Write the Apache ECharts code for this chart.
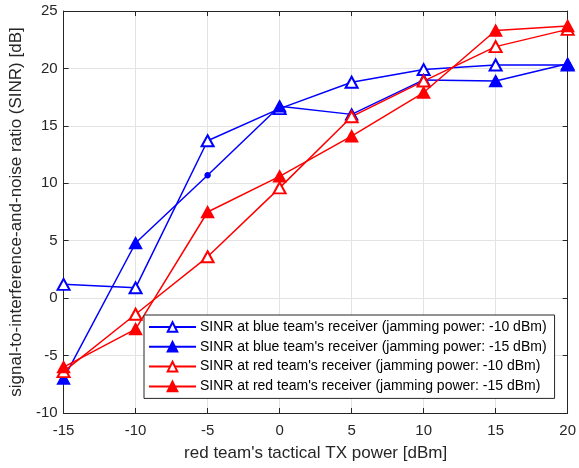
<!DOCTYPE html>
<html>
<head>
<meta charset="utf-8">
<script src="https://cdn.jsdelivr.net/npm/echarts@6/dist/echarts.min.js"></script>
<style>
  html, body { margin: 0; padding: 0; background: #fff; }
  #chart { width: 579px; height: 468px; }
</style>
</head>
<body>
<div id="chart"></div>
<script>
// 横轴: 红队发射功率
const txPower = [-15, -10, -5, 0, 5, 10, 15, 20];
// SINR 数据 [dB]
const blueJam10 = [1.2, 0.9, 13.7, 16.5, 18.8, 19.9, 20.3, 20.3];
const blueJam15 = [-7.0, 4.8, 10.7, 16.7, 16.0, 19.0, 18.9, 20.4];
const redJam10 = [-6.4, -1.4, 3.6, 9.6, 15.8, 18.9, 21.9, 23.4];
const redJam15 = [-6.0, -2.7, 7.5, 10.6, 14.1, 17.9, 23.3, 23.7];
const names = [
  "SINR at blue team's receiver (jamming power: -10 dBm)",
  "SINR at blue team's receiver (jamming power: -15 dBm)",
  "SINR at red team's receiver (jamming power: -10 dBm)",
  "SINR at red team's receiver (jamming power: -15 dBm)",
];
// 原图中蓝色实心线在 -5 dBm 处只有一个小圆点
const dotPoint = { series: 1, index: 2 };

var myChart = echarts.init(document.getElementById("chart"));
const font = "'Liberation Sans', Arial, sans-serif";
const axisColor = "#262626";

const makeSeries = (name, values, color, filled, sIdx) => {
  return {
    name,
    type: "line",
    xAxisIndex: 0,
    yAxisIndex: 0,
    symbol: filled ? "triangle" : "emptyTriangle",
    symbolSize: [12, 11],
    showAllSymbol: true,
    lineStyle: { color, width: 1.5 },
    itemStyle: { color, borderColor: color, borderWidth: 1.5 },
    emphasis: { disabled: true },
    data: values.map((v, i) => {
      if (sIdx === dotPoint.series && i === dotPoint.index) {
        return { value: [txPower[i], v], symbol: "circle", symbolSize: 5 };
      }
      return [txPower[i], v];
    }),
    z: 3,
  };
};

const option = {
  animation: false,
  textStyle: { fontFamily: font },
  grid: { left: 61, right: 9, top: 11, bottom: 55 },
  legend: {
    orient: "vertical",
    left: 144,
    top: 315,
    itemWidth: 47,
    itemHeight: 12,
    itemGap: 5.8,
    padding: [5, 8, 5, 4],
    backgroundColor: "#fff",
    borderColor: axisColor,
    borderWidth: 1,
    borderRadius: 0,
    textStyle: { fontFamily: font, fontSize: 14, color: "#000", padding: [0, 0, 0, -1] },
    data: names,
  },
  xAxis: [
    {
      type: "value",
      min: -15,
      max: 20,
      interval: 5,
      name: "red team's tactical TX power [dBm]",
      nameLocation: "middle",
      nameGap: 32,
      nameTextStyle: { fontFamily: font, fontSize: 17, color: axisColor },
      axisLine: { onZero: false, lineStyle: { color: axisColor, width: 1 } },
      axisTick: { inside: true, length: 5, lineStyle: { color: axisColor } },
      axisLabel: { fontFamily: font, fontSize: 15, color: axisColor, margin: 10 },
      splitLine: { show: true, lineStyle: { color: "#e3e3e3", width: 1 } },
    },
    {
      type: "value",
      position: "top",
      min: -15,
      max: 20,
      interval: 5,
      axisLine: { onZero: false, lineStyle: { color: axisColor, width: 1 } },
      axisTick: { inside: true, length: 5, lineStyle: { color: axisColor } },
      axisLabel: { show: false },
      splitLine: { show: false },
    },
  ],
  yAxis: [
    {
      type: "value",
      min: -10,
      max: 25,
      interval: 5,
      name: "signal-to-interference-and-noise ratio (SINR) [dB]",
      nameLocation: "middle",
      nameGap: 37,
      nameTextStyle: { fontFamily: font, fontSize: 17, color: axisColor },
      axisLine: { show: true, onZero: false, lineStyle: { color: axisColor, width: 1 } },
      axisTick: { show: true, inside: true, length: 5, lineStyle: { color: axisColor } },
      axisLabel: { fontFamily: font, fontSize: 15, color: axisColor, margin: 6 },
      splitLine: { show: true, lineStyle: { color: "#e3e3e3", width: 1 } },
    },
    {
      type: "value",
      position: "right",
      min: -10,
      max: 25,
      interval: 5,
      axisLine: { show: true, onZero: false, lineStyle: { color: axisColor, width: 1 } },
      axisTick: { show: true, inside: true, length: 5, lineStyle: { color: axisColor } },
      axisLabel: { show: false },
      splitLine: { show: false },
    },
  ],
  series: [
    makeSeries(names[0], blueJam10, "#0000ff", false, 0),
    makeSeries(names[1], blueJam15, "#0000ff", true, 1),
    makeSeries(names[2], redJam10, "#ff0000", false, 2),
    makeSeries(names[3], redJam15, "#ff0000", true, 3),
  ],
};

myChart.setOption(option);
</script>
</body>
</html>
